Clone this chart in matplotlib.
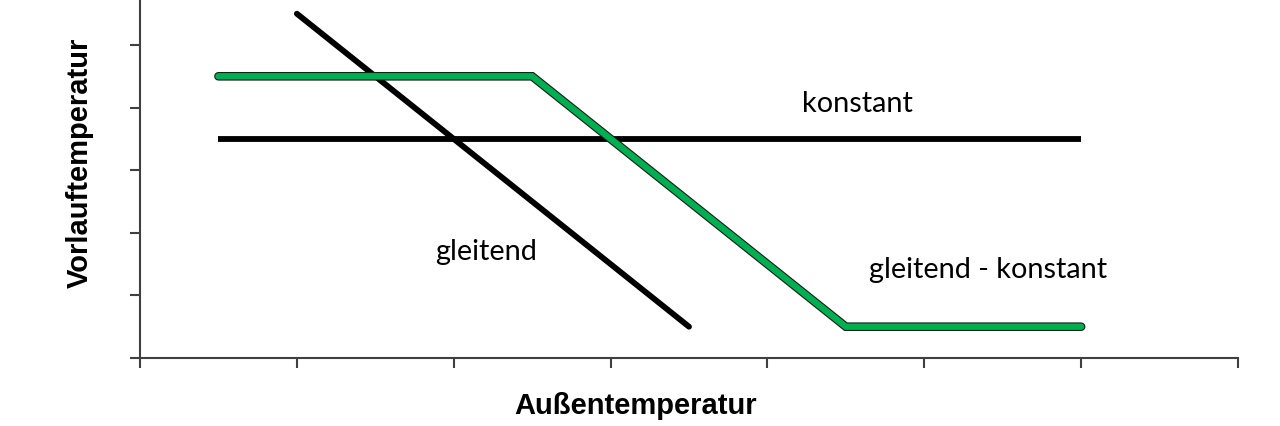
import matplotlib
matplotlib.use("Agg")
import matplotlib.pyplot as plt
import matplotlib.patheffects as pe

# Data (axis units: x ticks 0..7, y ticks 0..5)
konstant_x = [0.5, 6.0]
konstant_y = [3.5, 3.5]
gleitend_x = [1.0, 3.5]
gleitend_y = [5.5, 0.5]
gk_x = [0.5, 2.5, 4.5, 6.0]
gk_y = [4.5, 4.5, 0.5, 0.5]

W, H = 1280, 427
fig = plt.figure(figsize=(12.8, 4.27), dpi=100)
ax = fig.add_axes([140/W, (H-359)/H, (1238-140)/W, 359/H])

ax.plot(konstant_x, konstant_y, color='black', lw=4.2, solid_capstyle='butt')
ax.plot(gleitend_x, gleitend_y, color='black', lw=4.2, solid_capstyle='round')
ax.plot(gk_x, gk_y, color='#00B050', lw=4.6, solid_capstyle='round', solid_joinstyle='miter',
        path_effects=[pe.Stroke(linewidth=6.2, foreground='#1a1a1a'), pe.Normal()])

ax.set_xlim(0, 7)
ax.set_ylim(0, 359/62.6)
ax.set_xticks(range(0, 8))
ax.set_yticks(range(0, 6))
ax.set_xticklabels([])
ax.set_yticklabels([])
for s in ['top', 'right']:
    ax.spines[s].set_visible(False)
for s in ['left', 'bottom']:
    ax.spines[s].set_color('#404040')
    ax.spines[s].set_linewidth(1.5)
ax.tick_params(direction='out', length=7, width=1.5, color='#404040')

tfont = dict(family=['Lato', 'DejaVu Sans'], fontsize=20.8, color='black')
fig.text(857/W, 1-112/H, 'konstant', ha='center', va='baseline', **tfont)
fig.text(486/W, 1-260/H, 'gleitend', ha='center', va='baseline', **tfont)
fig.text(988/W, 1-278/H, 'gleitend - konstant', ha='center', va='baseline', **tfont)

lfont = dict(family=['Liberation Sans', 'DejaVu Sans'], fontsize=21, fontweight='bold')
fig.text(636/W, 1-406/H, 'Außentemperatur', ha='center', va='center', **lfont)
fig.text(80/W, 1-163/H, 'Vorlauftemperatur', ha='center', va='center', rotation=90, **lfont)

fig.savefig('out.png', dpi=100)
